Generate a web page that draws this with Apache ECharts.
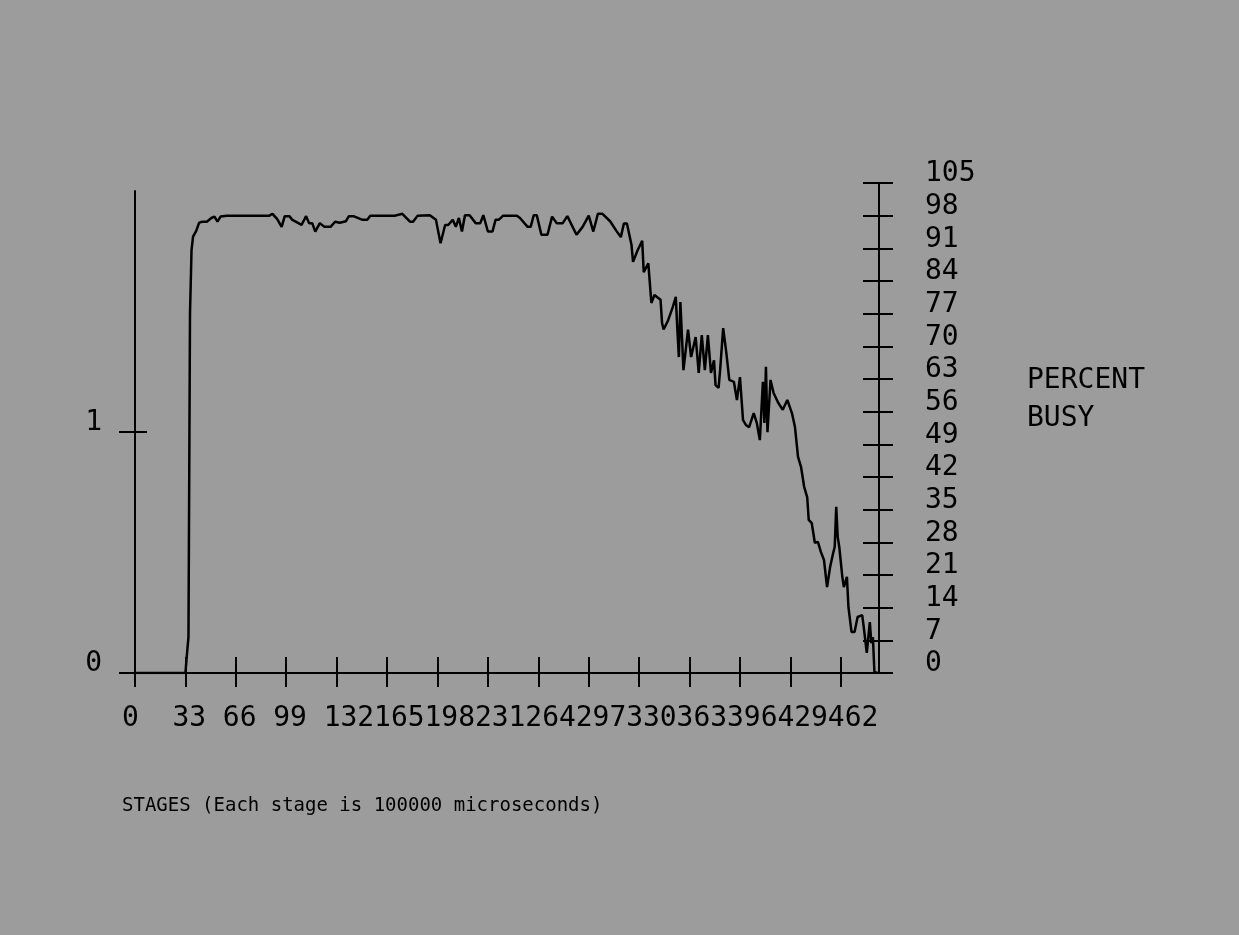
<!DOCTYPE html>
<html>
<head>
<meta charset="utf-8">
<script src="https://cdn.jsdelivr.net/npm/echarts@6/dist/echarts.min.js"></script>
<style>
  html, body { margin: 0; padding: 0; background: #9c9c9c; }
  #main { width: 1239px; height: 935px; }
</style>
</head>
<body>
<div id="main"></div>
<script>
// stage number (x) and percent busy (y)
var stages = [0, 10, 20, 30, 33, 34, 35, 36, 37, 38, 40, 42, 44, 47, 50, 52, 54, 56, 60, 70, 80, 81, 83, 88, 90,
  93, 96, 98, 101, 103, 107, 109, 112, 114, 116, 118, 121, 124, 128, 131, 134, 138, 140, 143, 149,
  152, 154, 162, 170, 175, 180, 182, 185, 193, 197, 200, 201, 203, 205, 208, 210, 212, 214, 216, 219,
  223, 226, 228, 231, 234, 236, 238, 241, 250, 252, 257, 259, 261, 263, 266, 270, 273, 276, 280, 283,
  289, 293, 297, 300, 303, 306, 311, 315, 318, 320, 322, 325, 326, 329, 332, 333, 336, 338, 340, 344,
  345, 346, 349, 352, 354, 355, 356, 357, 359, 361, 362, 364, 367, 369, 371, 373, 375, 377, 379, 380,
  382, 383, 385, 387, 389, 392, 394, 396, 397, 398, 400, 402, 405, 407, 409, 411, 412, 413, 414, 416,
  418, 421, 424, 427, 430, 432, 434, 436, 438, 440, 441, 443, 445, 447, 449, 451, 453, 455, 457, 458,
  459, 460, 461, 463, 464, 466, 467, 469, 471, 473, 476, 477, 479, 481, 482, 483, 484, 486];
var busy = [0, 0, 0, 0, 0, 4, 7.7, 77, 90.6, 93.5, 94.7, 96.5, 96.7, 96.7, 97.5, 97.8, 96.7, 97.8, 98, 98, 98, 98.4, 98, 98, 98.4,
  97.3, 95.6, 97.9, 97.9, 97.1, 96.4, 96, 97.9, 96.4, 96.4, 94.6, 96.4, 95.6, 95.6, 96.7, 96.5, 96.8, 97.9, 97.9, 97.1,
  97.1, 98, 98, 98, 98.4, 96.7, 96.7, 98, 98.1, 97.1, 92.1, 92.1, 96, 96, 97.1, 95.6, 97.5, 94.6, 98.1, 98.1,
  96.4, 96.4, 98.1, 94.6, 94.6, 97.1, 97.1, 98, 98, 97.5, 95.6, 95.6, 98.1, 98.1, 93.9, 93.9, 97.8, 96.4, 96.4, 97.9,
  93.9, 95.6, 98, 94.6, 98.4, 98.4, 96.8, 94.8, 93.4, 96.3, 96.3, 91.7, 88.1, 90.6, 92.6, 85.9, 87.8, 79.3, 81, 80,
  75, 73.6, 75.6, 78.4, 80.6, 73.6, 67.7, 79.5, 64.9, 70.7, 73.6, 67.7, 72, 64.3, 72.4, 64.9, 72.4, 64.3, 67, 61.7,
  61.1, 64.9, 73.9, 68.8, 62.8, 62.4, 58.5, 63.4, 63, 54.2, 53.1, 52.7, 55.7, 53.6, 49.9, 62.4, 53.6, 65.6, 51.6, 62.8,
  60, 57.9, 56.4, 58.5, 55.7, 52.7, 46.3, 44.1, 39.9, 37.7, 32.8, 32.1, 27.9, 28.1, 25.9, 24.2, 18.4, 22.7, 25.7, 27,
  35.6, 29.1, 27, 20.6, 18.4, 20.6, 14.1, 8.8, 8.8, 12, 12.4, 9.9, 4.3, 10.9, 6.4, 7.7, 0.2, 0];
var stageTicks = [0, 33, 66, 99, 132, 165, 198, 231, 264, 297, 330, 363, 396, 429, 462];
var leftTicks = [0, 1];
var percentTicks = [0, 7, 14, 21, 28, 35, 42, 49, 56, 63, 70, 77, 84, 91, 98, 105];

var points = stages.map(function (s, i) { return [s, busy[i]]; });

var font = 'DejaVu Sans Mono';
var black = '#000';
var tickStyle = { color: black, width: 2 };

var chart = echarts.init(document.getElementById('main'));
var option = {
  backgroundColor: '#9c9c9c',
  animation: false,
  textStyle: { fontFamily: font, color: black },
  grid: [
    // main plot, right percent axis
    { left: 135, right: 360, top: 183, bottom: 262, containLabel: false, outerBoundsMode: 'none' },
    // left 0..2 axis, a bit shorter
    { left: 135, right: 360, top: 191, bottom: 262, containLabel: false, outerBoundsMode: 'none' }
  ],
  xAxis: [
    {
      type: 'value', gridIndex: 0, position: 'bottom', min: 0, max: 487, interval: 33,
      name: 'STAGES (Each stage is 100000 microseconds)',
      nameLocation: 'start', nameGap: 13,
      nameTextStyle: { fontFamily: font, fontSize: 19, color: black, align: 'left', verticalAlign: 'top', padding: [124, 0, 0, 0] },
      axisLine: { show: true, onZero: false, lineStyle: tickStyle },
      axisTick: { show: true, inside: false, length: 14, customValues: stageTicks, lineStyle: tickStyle },
      axisLabel: { customValues: stageTicks, fontFamily: font, fontSize: 28, color: black, margin: 32, align: 'left', padding: [0, 0, 0, -13] },
      splitLine: { show: false }
    },
    {
      type: 'value', gridIndex: 0, position: 'bottom', min: 0, max: 487, interval: 33,
      axisLine: { show: false, onZero: false },
      axisTick: { show: true, inside: true, length: 16, customValues: stageTicks, lineStyle: tickStyle },
      axisLabel: { show: false },
      splitLine: { show: false }
    },
    {
      type: 'value', gridIndex: 1, min: 0, max: 487, show: false
    }
  ],
  yAxis: [
    {
      type: 'value', gridIndex: 1, position: 'left', min: 0, max: 2, interval: 1,
      axisLine: { show: true, onZero: false, lineStyle: tickStyle },
      axisTick: { show: true, inside: false, length: 16, customValues: leftTicks, lineStyle: tickStyle },
      axisLabel: { customValues: leftTicks, fontFamily: font, fontSize: 28, color: black, margin: 33, verticalAlign: 'bottom', padding: [0, 0, -5, 0] },
      splitLine: { show: false }
    },
    {
      type: 'value', gridIndex: 1, position: 'left', min: 0, max: 2, interval: 1,
      axisLine: { show: false, onZero: false },
      axisTick: { show: true, inside: true, length: 12, customValues: [1], lineStyle: tickStyle },
      axisLabel: { show: false },
      splitLine: { show: false }
    },
    {
      type: 'value', gridIndex: 0, position: 'right', min: 0, max: 105, interval: 7,
      name: 'PERCENT\nBUSY', nameLocation: 'middle', nameRotate: 0, nameGap: 148,
      nameTextStyle: { fontFamily: font, fontSize: 28, lineHeight: 38, color: black, align: 'left', verticalAlign: 'bottom', padding: [0, 0, -10, 0] },
      axisLine: { show: true, onZero: false, lineStyle: tickStyle },
      axisTick: { show: true, inside: false, length: 14, customValues: percentTicks, lineStyle: tickStyle },
      axisLabel: { customValues: percentTicks, fontFamily: font, fontSize: 28, color: black, margin: 46, align: 'left', verticalAlign: 'bottom', padding: [0, 0, -5, 0] },
      splitLine: { show: false }
    },
    {
      type: 'value', gridIndex: 0, position: 'right', min: 0, max: 105, interval: 7,
      axisLine: { show: false, onZero: false },
      axisTick: { show: true, inside: true, length: 16, customValues: percentTicks, lineStyle: tickStyle },
      axisLabel: { show: false },
      splitLine: { show: false }
    }
  ],
  series: [
    {
      name: 'PERCENT BUSY',
      type: 'line',
      xAxisIndex: 0,
      yAxisIndex: 2,
      data: points,
      showSymbol: false,
      symbol: 'none',
      lineStyle: { color: black, width: 2.5 }
    }
  ]
};
chart.setOption(option);
</script>
</body>
</html>
